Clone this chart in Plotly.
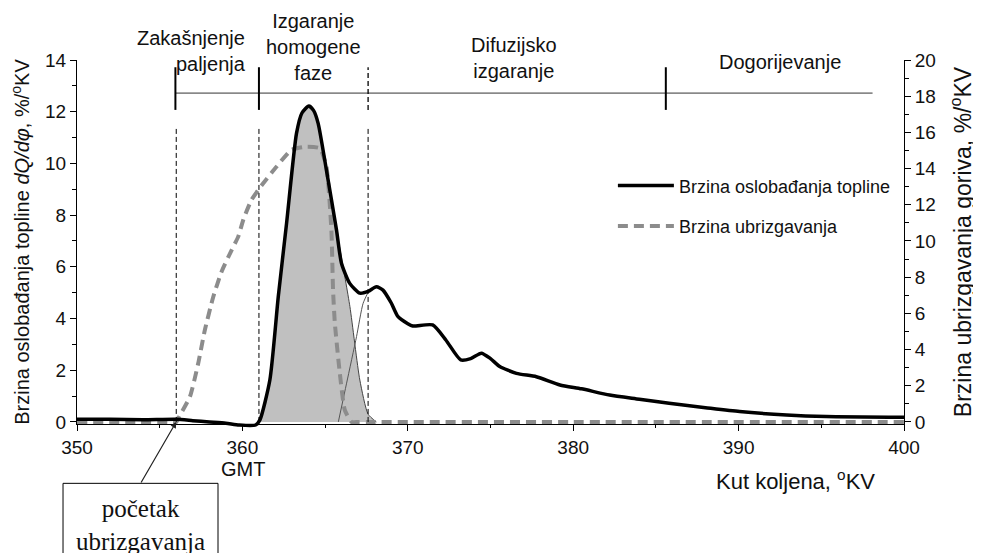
import plotly.graph_objects as go

# ---------------- data ----------------
# heat release rate dQ/dphi, %/deg CA (left axis)
hr_angle = [350, 352, 354, 356, 357, 358, 359, 359.8, 360.8, 361.06, 361.66, 362.17,
            362.67, 363.27, 363.6, 364.02, 364.3, 364.58, 365.08, 365.69, 365.99,
            366.49, 367.1, 367.6, 368.1, 368.5, 369.0, 369.41, 370.0, 370.3, 371.5,
            372.3, 373.2, 373.8, 374.45, 375.0, 375.56, 376.57, 377.77, 379.2, 380.5,
            382.2, 384.0, 385.8, 388.0, 390.06, 392.9, 395.3, 400]
hr_rate = [0.10, 0.10, 0.08, 0.10, 0.05, 0.0, -0.05, -0.12, -0.12, 0.08, 1.62, 4.85,
           7.68, 11.16, 11.95, 12.22, 12.05, 11.55, 9.74, 7.42, 6.14,
           5.36, 4.98, 5.05, 5.23, 5.10, 4.60, 4.07, 3.80, 3.71, 3.75,
           3.17, 2.40, 2.45, 2.66, 2.45, 2.14, 1.88, 1.75, 1.43, 1.28,
           1.04, 0.88, 0.72, 0.55, 0.40, 0.27, 0.21, 0.18]

# premixed (homogeneous) combustion component - grey area
pre_angle = [360.9, 361.06, 361.66, 362.17, 362.67, 363.27, 363.6, 364.02, 364.3,
             364.58, 365.08, 365.69, 365.95, 366.5, 367.1, 367.6, 368.1]
pre_rate = [0.0, 0.08, 1.62, 4.85, 7.68, 11.16, 11.95, 12.22, 12.05,
            11.55, 9.74, 7.42, 6.5, 4.46, 1.62, 0.3, 0.0]

# diffusion component onset - thin line
dif_angle = [365.8, 366.3, 366.9, 367.3, 367.7, 368.1]
dif_rate = [0.0, 1.5, 3.3, 4.59, 5.1, 5.23]

# fuel injection rate, %/deg CA (right axis)
inj_angle = [350, 355.5, 356.0, 356.12, 356.83, 357.33, 357.73, 358.24, 358.74, 359.35,
             359.75, 360.05, 360.55, 361.26, 362.06, 362.96, 363.87, 364.68,
             365.08, 365.38, 365.48, 365.59, 365.89, 366.19, 366.6, 367.0, 368.0,
             380.0, 400]
inj_rate = [0, 0, 0, 0.2, 1.4, 3.24, 5.08, 6.92, 8.3, 9.5,
            10.24, 11.16, 12.27, 13.19, 14.1, 15.03, 15.21, 15.12,
            14.1, 10.6, 7.29, 5.45, 2.69, 0.66, 0, 0, 0,
            0, 0]

# combustion phases
phase_bounds = [356.0, 361.0, 367.6, 385.6]
phase_bar_end = 398.1
phase_labels = ["Zakašnjenje<br>paljenja", "Izgaranje<br>homogene<br>faze",
                "Difuzijsko<br>izgaranje", "Dogorijevanje"]
phase_label_x = [360.33, 364.3, 376.4, 392.5]
phase_label_y = [1.0255, 1.035, 1.0054, 0.9946]
phase_label_align = ["right", "center", "center", "center"]

x_ticks = [350, 360, 370, 380, 390, 400]
y1_ticks = [0, 2, 4, 6, 8, 10, 12, 14]
y2_ticks = [0, 2, 4, 6, 8, 10, 12, 14, 16, 18, 20]

FONT = "Liberation Sans, Arial, sans-serif"

fig = go.Figure()

fig.add_trace(go.Scatter(
    x=pre_angle, y=pre_rate, mode="lines", fill="tozeroy",
    fillcolor="#c0c0c0", line=dict(color="#444444", width=1, shape="spline",
                                   smoothing=0.6),
    showlegend=False, hoverinfo="skip"))

fig.add_trace(go.Scatter(
    x=dif_angle, y=dif_rate, mode="lines",
    line=dict(color="#555555", width=1, shape="spline", smoothing=0.6),
    showlegend=False, hoverinfo="skip"))

fig.add_trace(go.Scatter(
    x=inj_angle, y=inj_rate, mode="lines", yaxis="y2",
    name="Brzina ubrizgavanja", legendgroup="b", legendrank=2,
    line=dict(color="#8c8c8c", width=4, dash="10px,6px", shape="spline",
              smoothing=0.5)))

# heat release drawn on a twin subplot whose area reaches a few px below the axis,
# so the small dip below zero stays visible
fig.add_trace(go.Scatter(
    x=hr_angle, y=hr_rate, mode="lines", xaxis="x2", yaxis="y3",
    name="Brzina oslobađanja topline", legendgroup="a", legendrank=1,
    line=dict(color="black", width=3.5, shape="spline", smoothing=0.6)))

shapes = []
# vertical dashed phase lines
for b in phase_bounds[:3]:
    shapes.append(dict(type="line", xref="x", yref="y", x0=b, x1=b, y0=0, y1=11.4,
                       line=dict(color="black", width=1, dash="5px,3px")))
# top phase bar
shapes.append(dict(type="line", xref="x", yref="y", x0=phase_bounds[0] - 0.05,
                   x1=phase_bar_end, y0=12.72, y1=12.72,
                   line=dict(color="#333333", width=1)))
for i, b in enumerate(phase_bounds):
    xb = b - 0.05 if i == 0 else b
    shapes.append(dict(type="line", xref="x", yref="y", x0=xb, x1=xb,
                       y0=12.07, y1=13.72,
                       line=dict(color="black", width=2 if i != 2 else 1.3,
                                 dash="solid" if i != 2 else "5px,3px")))
# note box
shapes.append(dict(type="rect", xref="paper", yref="paper",
                   x0=-0.0169, x1=0.1705, y0=-0.50, y1=-0.138,
                   line=dict(color="black", width=1), fillcolor="white"))
fig.update_layout(shapes=shapes)

ann = []
for t, x, y, al in zip(phase_labels, phase_label_x, phase_label_y, phase_label_align):
    ann.append(dict(text=t, x=x, y=y, xref="x", yref="paper", showarrow=False,
                    xanchor="right" if al == "right" else "center", yanchor="middle",
                    align=al, font=dict(family=FONT, size=20, color="#111")))
ann.append(dict(text="GMT", x=360.03, y=-0.0995, xref="x", yref="paper",
                showarrow=False, xanchor="center", yanchor="middle",
                font=dict(family=FONT, size=20, color="#111")))
ann.append(dict(text="Kut koljena, <sup>o</sup>KV", x=0.8686, y=-0.130, xref="paper",
                yref="paper", showarrow=False, xanchor="center", yanchor="middle",
                font=dict(family=FONT, size=22, color="#111")))
ann.append(dict(text="", x=356.0, y=0, xref="x", yref="y", ax=-36, ay=62,
                showarrow=True, arrowhead=2, arrowsize=1, arrowwidth=1.2,
                arrowcolor="#222", standoff=0))
ann.append(dict(text="početak<br>ubrizgavanja", x=0.0762, y=-0.2495, xref="paper",
                yref="paper", showarrow=False, xanchor="center", yanchor="middle",
                font=dict(family="Liberation Serif, Times New Roman, serif", size=25,
                          color="#111")))
fig.update_layout(annotations=ann)

axis_common = dict(showline=True, linecolor="black", linewidth=1, showgrid=False,
                   zeroline=False, ticks="outside", ticklen=6, tickwidth=1,
                   tickcolor="black",
                   tickfont=dict(family=FONT, size=19, color="#111"))

fig.update_layout(
    width=981, height=553,
    margin=dict(l=69, r=85, t=52, b=129, autoexpand=False),
    plot_bgcolor="rgba(0,0,0,0)", paper_bgcolor="white",
    xaxis=dict(range=[350, 400], tickvals=x_ticks, anchor="y",
               minor=dict(dtick=5, tick0=350, ticklen=3, ticks="outside",
                          tickcolor="black"), **axis_common),
    yaxis=dict(range=[-0.08, 14], tickvals=y1_ticks, domain=[0.0215, 1],
               minor=dict(dtick=1, tick0=0, ticklen=4, ticks="outside",
                          tickcolor="black"),
               title=dict(text="Brzina oslobađanja topline <i>dQ/dφ</i>, %/<sup>o</sup>KV",
                          font=dict(family=FONT, size=20, color="#111"), standoff=10),
               **axis_common),
    yaxis2=dict(range=[-0.1143, 20], tickvals=y2_ticks, overlaying="y", side="right",
                minor=dict(dtick=1, tick0=0, ticklen=4, ticks="outside",
                           tickcolor="black"),
                title=dict(text="Brzina ubrizgavanja goriva, %/<sup>o</sup>KV",
                           font=dict(family=FONT, size=23, color="#111"), standoff=19),
                **axis_common),
    xaxis2=dict(range=[350, 400], domain=[0, 1], anchor="y3", visible=False),
    yaxis3=dict(range=[-0.3895, 14], domain=[0, 1], anchor="x2", visible=False),
    legend=dict(x=0.648, y=0.7113, xanchor="left", yanchor="top",
                bgcolor="rgba(0,0,0,0)", itemwidth=56, tracegroupgap=14,
                traceorder="grouped",
                font=dict(family=FONT, size=18, color="#111")),
)

fig.write_html("out.html")
